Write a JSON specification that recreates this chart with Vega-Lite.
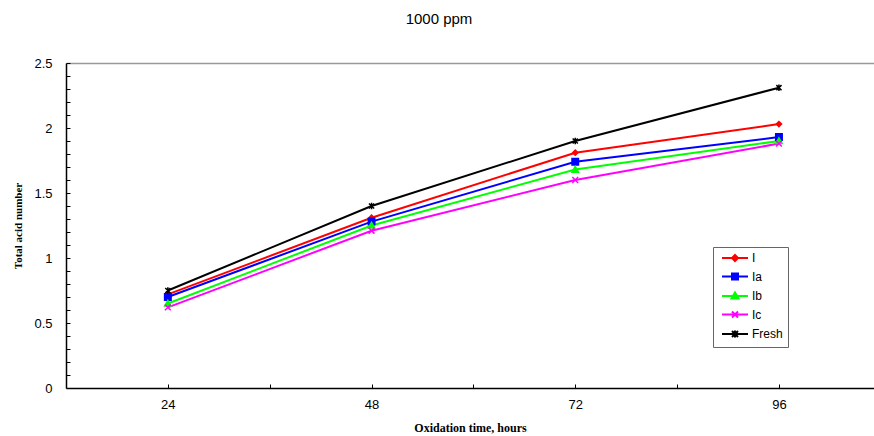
{
  "$schema": "https://vega.github.io/schema/vega-lite/v6.json",
  "autosize": {"type": "none"},
  "padding": {"left": 66, "top": 63, "right": 0, "bottom": 48},
  "width": 808,
  "height": 325,
  "title": {"text": "1000 ppm", "font": "Liberation Sans", "fontSize": 15, "fontWeight": "normal", "anchor": "middle", "dx": -31, "offset": 18, "baseline": "alphabetic", "color": "#000"},
  "config": {"view": {"stroke": null}, "font": "Liberation Sans"},
  "data": {"values": [
    {"t": 24, "s": "I", "v": 0.72}, {"t": 48, "s": "I", "v": 1.31}, {"t": 72, "s": "I", "v": 1.81}, {"t": 96, "s": "I", "v": 2.03},
    {"t": 24, "s": "Ia", "v": 0.70}, {"t": 48, "s": "Ia", "v": 1.28}, {"t": 72, "s": "Ia", "v": 1.74}, {"t": 96, "s": "Ia", "v": 1.93},
    {"t": 24, "s": "Ib", "v": 0.65}, {"t": 48, "s": "Ib", "v": 1.25}, {"t": 72, "s": "Ib", "v": 1.68}, {"t": 96, "s": "Ib", "v": 1.90},
    {"t": 24, "s": "Ic", "v": 0.62}, {"t": 48, "s": "Ic", "v": 1.21}, {"t": 72, "s": "Ic", "v": 1.60}, {"t": 96, "s": "Ic", "v": 1.88},
    {"t": 24, "s": "Fresh", "v": 0.75}, {"t": 48, "s": "Fresh", "v": 1.40}, {"t": 72, "s": "Fresh", "v": 1.90}, {"t": 96, "s": "Fresh", "v": 2.31}
  ]},
  "layer": [
    {
      "mark": {"type": "line", "strokeWidth": 2, "clip": true},
      "encoding": {
        "x": {"field": "t", "type": "quantitative", "scale": {"domain": [12, 107.2], "nice": false, "zero": false},
          "axis": {"orient": "bottom", "values": [24, 36, 48, 60, 72, 84, 96], "labelExpr": "datum.value % 24 == 0 ? datum.label : ''", "labelOverlap": false,
            "title": "Oxidation time, hours", "titleFont": "Liberation Serif", "titleFontSize": 12, "titleFontWeight": "bold", "titleColor": "#000", "titlePadding": 11,
            "labelFont": "Liberation Sans", "labelFontSize": 13, "labelColor": "#000", "labelPadding": 14,
            "domainColor": "#000", "domainWidth": 1.5, "tickColor": "#000", "tickSize": -4, "grid": false, "labelFlush": false}},
        "y": {"field": "v", "type": "quantitative", "scale": {"domain": [0, 2.5], "nice": false},
          "axis": {"values": [0, 0.1, 0.2, 0.3, 0.4, 0.5, 0.6, 0.7, 0.8, 0.9, 1, 1.1, 1.2, 1.3, 1.4, 1.5, 1.6, 1.7, 1.8, 1.9, 2, 2.1, 2.2, 2.3, 2.4, 2.5],
            "labelExpr": "abs(datum.value*2 - round(datum.value*2)) < 0.001 ? format(datum.value, '~g') : ''", "labelOverlap": false,
            "title": "Total acid number", "titleFont": "Liberation Serif", "titleFontSize": 11, "titleFontWeight": "bold", "titleColor": "#000", "titlePadding": 10,
            "labelFont": "Liberation Sans", "labelFontSize": 13, "labelColor": "#000", "labelPadding": 18,
            "domainColor": "#000", "domainWidth": 1.5, "tickColor": "#000", "tickSize": -4, "grid": false, "labelFlush": false}},
        "color": {"field": "s", "type": "nominal", "scale": {"domain": ["I", "Ia", "Ib", "Ic", "Fresh"], "range": ["#ff0000", "#0000ff", "#00ff00", "#ff00ff", "#000000"]}, "legend": null}
      }
    },
    {
      "mark": {"type": "point", "filled": true, "strokeWidth": 1.5, "opacity": 1, "size": 42},
      "encoding": {
        "x": {"field": "t", "type": "quantitative", "axis": {"orient": "top", "ticks": false, "labels": false, "title": null, "domainColor": "#999999", "domainWidth": 1.5, "grid": false}},
        "y": {"field": "v", "type": "quantitative", "axis": null},
        "fill": {"field": "s", "type": "nominal", "scale": {"domain": ["I", "Ia", "Ib", "Ic", "Fresh"], "range": ["#ff0000", "#0000ff", "#00ff00", "#ff00ff", "#000000"]}, "legend": null},
        "stroke": {"field": "s", "type": "nominal", "scale": {"domain": ["I", "Ia", "Ib", "Ic", "Fresh"], "range": ["#ff0000", "#0000ff", "#00ff00", "#ff00ff", "#000000"]}, "legend": null},
        "shape": {"field": "s", "type": "nominal", "scale": {"domain": ["I", "Ia", "Ib", "Ic", "Fresh"], "range": [
          "M0,-0.8L0.8,0L0,0.8L-0.8,0Z",
          "M-1,-1H1V1H-1Z",
          "M0,-1L1,0.8H-1Z",
          "M-0.9,-0.9L0.9,0.9M-0.9,0.9L0.9,-0.9",
          "M-0.8,-0.8L0.8,0.8M-0.8,0.8L0.8,-0.8M0,-1V1"
        ]}, "legend": null}
      }
    },
    {
      "transform": [{"filter": "false"}],
      "mark": {"type": "point", "filled": true, "strokeWidth": 2},
      "encoding": {
        "x": {"field": "t", "type": "quantitative", "axis": null},
        "y": {"field": "v", "type": "quantitative", "axis": null},
        "fill": {"field": "s", "type": "nominal", "scale": {"domain": ["I", "Ia", "Ib", "Ic", "Fresh"], "range": ["#ff0000", "#0000ff", "#00ff00", "#ff00ff", "#000000"]},
          "legend": {"title": null, "orient": "none", "legendX": 647, "legendY": 184, "padding": 5, "fillColor": "#ffffff", "strokeColor": "#666666",
            "symbolSize": 100, "symbolOffset": 11, "labelOffset": 11, "labelFontSize": 12, "labelFont": "Liberation Sans", "labelColor": "#000", "rowPadding": 4.5, "symbolStrokeWidth": 2, "symbolOpacity": 1}},
        "stroke": {"field": "s", "type": "nominal", "scale": {"domain": ["I", "Ia", "Ib", "Ic", "Fresh"], "range": ["#ff0000", "#0000ff", "#00ff00", "#ff00ff", "#000000"]},
          "legend": {"title": null, "orient": "none", "legendX": 647, "legendY": 184, "padding": 5, "fillColor": "#ffffff", "strokeColor": "#666666",
            "symbolSize": 100, "symbolOffset": 11, "labelOffset": 11, "labelFontSize": 12, "labelFont": "Liberation Sans", "labelColor": "#000", "rowPadding": 4.5, "symbolStrokeWidth": 2, "symbolOpacity": 1}},
        "shape": {"field": "s", "type": "nominal", "scale": {"domain": ["I", "Ia", "Ib", "Ic", "Fresh"], "range": [
          "M-2.6,0H2.6M0,-0.6L0.6,0L0,0.6L-0.6,0Z",
          "M-2.6,0H2.6M-0.6,-0.6H0.6V0.6H-0.6Z",
          "M-2.6,0H2.6M0,-0.7L0.7,0.5H-0.7Z",
          "M-2.6,0H2.6M-0.6,-0.6L0.6,0.6M-0.6,0.6L0.6,-0.6",
          "M-2.6,0H2.6M-0.6,-0.6L0.6,0.6M-0.6,0.6L0.6,-0.6M0,-0.7V0.7"
        ]},
          "legend": {"title": null, "orient": "none", "legendX": 647, "legendY": 184, "padding": 5, "fillColor": "#ffffff", "strokeColor": "#666666",
            "symbolSize": 100, "symbolOffset": 11, "labelOffset": 11, "labelFontSize": 12, "labelFont": "Liberation Sans", "labelColor": "#000", "rowPadding": 4.5, "symbolStrokeWidth": 2, "symbolOpacity": 1}}
      }
    }
  ],
  "resolve": {
    "scale": {"fill": "independent", "stroke": "independent", "shape": "independent", "color": "independent"},
    "axis": {"x": "independent", "y": "independent"}
  }
}
